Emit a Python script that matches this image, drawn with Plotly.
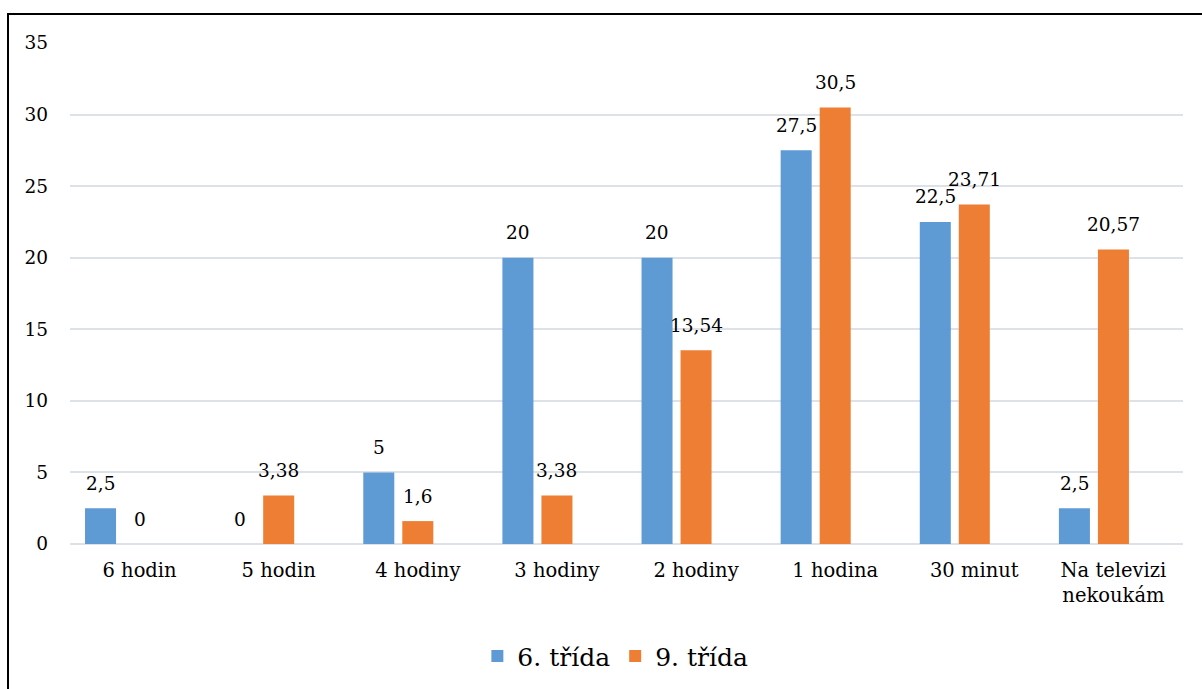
import plotly.graph_objects as go

# Viewing time categories and share of pupils (%) per grade
categories = ["6 hodin", "5 hodin", "4 hodiny", "3 hodiny", "2 hodiny",
              "1 hodina", "30 minut", "Na televizi<br>nekoukám"]
grade6 = [2.5, 0, 5, 20, 20, 27.5, 22.5, 2.5]
grade9 = [0, 3.38, 1.6, 3.38, 13.54, 30.5, 23.71, 20.57]
series_names = ["6. třída", "9. třída"]

FONT = "DejaVu Serif"
BLUE = "#5e9ad4"
ORANGE = "#ee7e33"

BAR_W = 0.223
STEP = 0.2805          # spacing between neighbouring bar slots
idx = list(range(len(categories)))
x6 = [i - STEP for i in idx]
x9 = [i for i in idx]


def cz(v):
    s = f"{v:g}"
    return s.replace(".", ",")


fig = go.Figure()
fig.add_trace(go.Bar(
    x=x6, y=grade6, name=series_names[0], width=BAR_W,
    marker=dict(color=BLUE, line=dict(width=0)),
))
fig.add_trace(go.Bar(
    x=x9, y=grade9, name=series_names[1], width=BAR_W,
    marker=dict(color=ORANGE, line=dict(width=0)),
))

annotations = []
for xs, ys in ((x6, grade6), (x9, grade9)):
    for xv, yv in zip(xs, ys):
        annotations.append(dict(
            x=xv, y=yv, xref="x", yref="y", text=cz(yv), showarrow=False,
            yanchor="middle", xanchor="center", yshift=25,
            font=dict(family=FONT, size=18.5, color="#000000"),
        ))

fig.update_layout(
    width=1202, height=689,
    margin=dict(l=70, r=19, t=43, b=145, pad=0, autoexpand=False),
    paper_bgcolor="white", plot_bgcolor="white",
    barmode="overlay",
    font=dict(family=FONT, size=19, color="#000000"),
    annotations=annotations,
    showlegend=True,
    legend=dict(
        orientation="h", x=0.49, xanchor="center", y=-0.224, yanchor="middle",
        font=dict(family=FONT, size=25, color="#000000"),
        traceorder="normal", itemwidth=30,
    ),
    shapes=[dict(
        type="rect", xref="paper", yref="paper",
        x0=-0.0557, x1=1.2, y0=-0.6, y1=1.0579,
        line=dict(color="#000000", width=2), fillcolor="rgba(0,0,0,0)",
        layer="above",
    )],
)

fig.update_xaxes(
    range=[-0.5, len(categories) - 0.5],
    tickmode="array", tickvals=idx, ticktext=categories,
    showgrid=False, zeroline=False, showline=False, ticks="",
    ticklabelstandoff=12, automargin=False,
    tickfont=dict(family=FONT, size=19.5, color="#000000"),
)
fig.update_yaxes(
    range=[0, 35], dtick=5, tick0=0,
    showgrid=True, gridcolor="#dde2e9", gridwidth=1.6,
    zeroline=True, zerolinecolor="#dde2e9", zerolinewidth=1.6,
    showline=False, ticks="", ticklabelstandoff=21, automargin=False,
    tickfont=dict(family=FONT, size=18.5, color="#000000"),
)

fig.write_html("out.html")
